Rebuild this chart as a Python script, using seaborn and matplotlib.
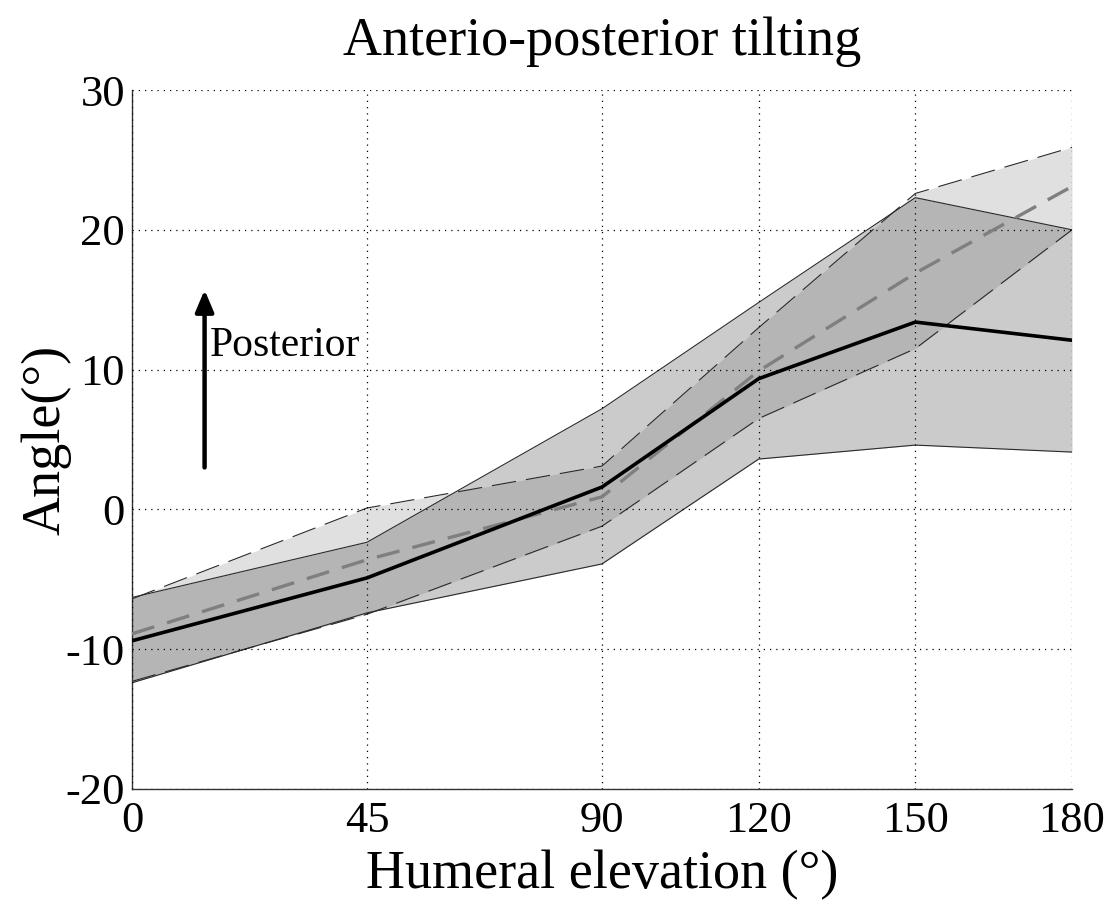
import numpy as np
import pandas as pd
import matplotlib
matplotlib.use("Agg")
import matplotlib.pyplot as plt
import seaborn as sns

# -------------------------------
# Data
# -------------------------------
elevation = [0, 45, 90, 120, 150, 180]

# group drawn with solid lines
solid_mean = [-9.4, -4.9, 1.6, 9.35, 13.4, 12.1]
solid_upper = [-6.3, -2.35, 7.2, 14.8, 22.3, 20.0]
solid_lower = [-12.4, -7.4, -3.9, 3.6, 4.6, 4.1]

# group drawn with dashed lines
dashed_mean = [-8.9, -3.6, 0.9, 9.9, 16.9, 23.1]
dashed_upper = [-6.4, 0.1, 3.1, 13.0, 22.6, 25.9]
dashed_lower = [-12.3, -7.5, -1.2, 6.5, 11.5, 20.0]

x_ticks = [0, 45, 90, 120, 150, 180]
y_ticks = [-20, -10, 0, 10, 20, 30]

df = pd.DataFrame({
    "elevation": elevation * 2,
    "angle": solid_mean + dashed_mean,
    "group": ["solid"] * len(elevation) + ["dashed"] * len(elevation),
})

# -------------------------------
# Style
# -------------------------------
sns.set_style("white")
plt.rcParams["font.family"] = ["Liberation Serif", "DejaVu Serif"]
plt.rcParams["axes.unicode_minus"] = False
for key in ["text.color", "axes.labelcolor", "xtick.color", "ytick.color"]:
    plt.rcParams[key] = "black"

fig = plt.figure(figsize=(11.13, 9.0), dpi=100)
ax = fig.add_axes([132 / 1113, 1 - 789 / 900, (1072 - 132) / 1113, (789 - 90) / 900])

# bands
ax.fill_between(elevation, dashed_lower, dashed_upper, color="#e0e0e0", linewidth=0, zorder=1)
ax.fill_between(elevation, solid_lower, solid_upper, color="#4c4c4c", alpha=0.29, linewidth=0, zorder=1.1)

edge_kw = dict(color="#2a2a2a", linewidth=0.8, zorder=2)
ax.plot(elevation, dashed_upper, dashes=(22, 9), **edge_kw)
ax.plot(elevation, dashed_lower, dashes=(22, 9), **edge_kw)
ax.plot(elevation, solid_upper, **edge_kw)
ax.plot(elevation, solid_lower, **edge_kw)

# mean curves
sns.lineplot(data=df[df.group == "dashed"], x="elevation", y="angle", ax=ax,
             color="#7f7f7f", linewidth=2.4, zorder=3)
ax.lines[-1].set_dashes((7, 4))
sns.lineplot(data=df[df.group == "solid"], x="elevation", y="angle", ax=ax,
             color="black", linewidth=2.6, zorder=3.1)

# direction arrow
ax.annotate("", xy=(13.9, 15.7), xytext=(13.9, 3.0),
            arrowprops=dict(arrowstyle="-|>,head_length=1.3,head_width=0.55",
                            color="black", lw=3.2, shrinkA=0, shrinkB=0))
ax.text(14.9, 11.0, "Posterior", fontsize=30, va="baseline", ha="left")

# axes
ax.set_xlim(0, 180)
ax.set_ylim(-20, 30)
ax.set_xticks(x_ticks)
ax.set_yticks(y_ticks)
ax.set_axisbelow(False)
ax.grid(True, color="black", linestyle=(0, (1, 4)), linewidth=0.9, zorder=2.5)
for side in ["top", "right"]:
    ax.spines[side].set_visible(False)
for side in ["left", "bottom"]:
    ax.spines[side].set_color("#333333")
    ax.spines[side].set_linewidth(1.0)
ax.tick_params(direction="in", length=8, width=1, color="#333333",
               labelsize=32)
ax.tick_params(axis="x", pad=9)
ax.tick_params(axis="y", pad=5)

ax.set_title("Anterio-posterior tilting", fontsize=39, pad=25)
ax.set_xlabel("Humeral elevation (°)", fontsize=39, labelpad=6)
ax.set_ylabel("Angle(°)", fontsize=39, labelpad=-4)
if ax.get_legend() is not None:
    ax.get_legend().remove()

fig.savefig("out.png", dpi=100)
